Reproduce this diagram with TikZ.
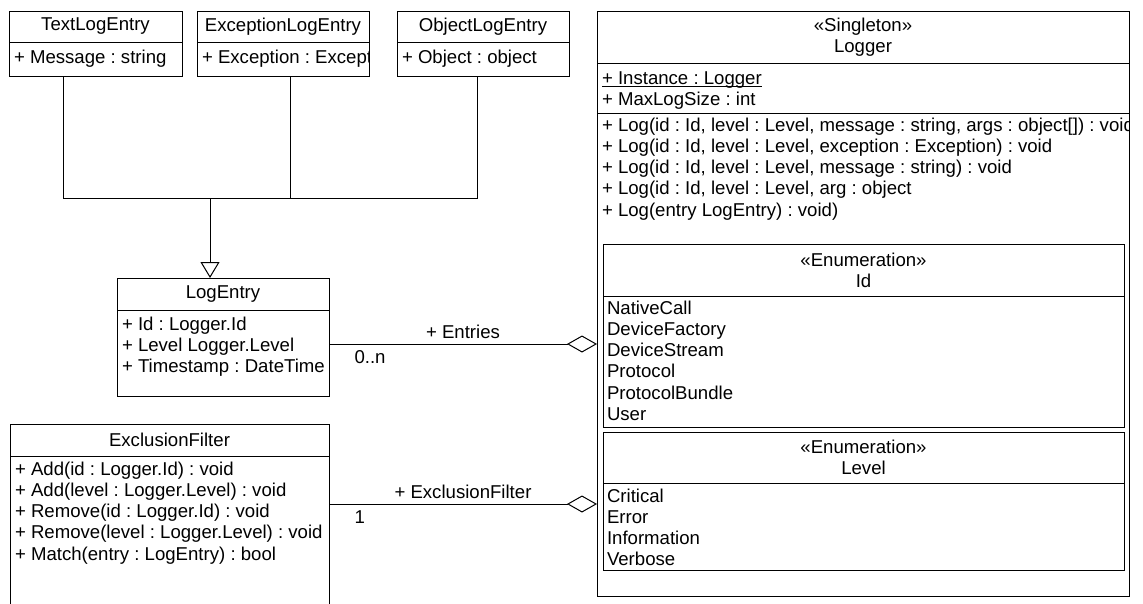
\documentclass[tikz,border=0pt]{standalone}
\usepackage{fontspec}
\setmainfont{Liberation Sans}
\usetikzlibrary{positioning,arrows.meta}

\newcommand{\umlfont}{\fontsize{18.6}{21.3}\selectfont}
\frenchspacing

\begin{document}
\begin{tikzpicture}[x=1pt, y=-1pt, line width=1pt, font=\umlfont,
    cls/.style={draw, rectangle, anchor=north west, inner sep=0pt, outer sep=0pt},
    ttl/.style={cls, align=center},
    txt/.style={anchor=base west, inner sep=0pt, outer sep=0pt},
    gen/.style={-{Triangle[open, length=16pt, width=19pt]}},
    agg/.style={-{Diamond[open, length=30pt, width=17pt]}},
    role/.style={midway, above, inner sep=0pt, yshift=5pt},
    mult/.style={at start, anchor=base west, inner sep=0pt, xshift=25pt, yshift=-19pt}]
        \fill[white] (0,0) rectangle (1143,603);
        \useasboundingbox (0,0) rectangle (1143,603);
        \clip (0,0) rectangle (1143,603);

        % Subclasses of LogEntry
        \node[ttl, minimum width=173pt, minimum height=31pt] (tle) at (9,11) {TextLogEntry};
        \node[cls, minimum width=173pt, minimum height=34pt] (tleb) at (tle.south west) {};
        \node[txt] (tlem) at (14,63) {+ Message : string};

        \node[ttl, minimum width=172pt, minimum height=31pt] (ele) at (197,11) {ExceptionLogEntry};
        \node[cls, minimum width=172pt, minimum height=34pt] (eleb) at (ele.south west) {};
        \begin{scope}
            \clip (eleb.north west) rectangle (eleb.south east);
            \node[txt] (elem) at (202,63) {+ Exception : Exception};
        \end{scope}

        \node[ttl, minimum width=172pt, minimum height=31pt] (ole) at (397,11) {ObjectLogEntry};
        \node[cls, minimum width=172pt, minimum height=34pt] (oleb) at (ole.south west) {};
        \node[txt] (olem) at (402,63) {+ Object : object};

        % LogEntry
        \node[ttl, minimum width=212pt, minimum height=32pt] (le) at (117,278) {LogEntry};
        \node[cls, minimum width=212pt, minimum height=86pt] (leb) at (le.south west) {};
        \foreach \t [count=\i from 0] in {{+ Id : Logger.Id}, {+ Level Logger.Level}, {+ Timestamp : DateTime}} {
            \node[txt] (lea\i) at (122,330+21.3*\i) {\t};
        }

        % ExclusionFilter
        \node[ttl, minimum width=319pt, minimum height=32pt] (ef) at (10,424) {ExclusionFilter};
        \node[cls, minimum width=319pt, minimum height=184pt] (efb) at (ef.south west) {};
        \foreach \t [count=\i from 0] in {{+ Add(id : Logger.Id) : void}, {+ Add(level : Logger.Level) : void},
            {+ Remove(id : Logger.Id) : void}, {+ Remove(level : Logger.Level) : void}, {+ Match(entry : LogEntry) : bool}} {
            \node[txt] (efm\i) at (15,475+21.3*\i) {\t};
        }

        % Logger
        \node[ttl, minimum width=532pt, minimum height=52pt] (lg) at (597,11) {«Singleton»\\Logger};
        \node[cls, minimum width=532pt, minimum height=50pt] (lga) at (lg.south west) {};
        \node[cls, minimum width=532pt, minimum height=483pt] (lgm) at (lga.south west) {};
        \node[txt] (inst) at (602,84) {+ Instance : Logger};
        \draw[line width=0.8pt] ([yshift=-2pt]inst.base west) -- ([yshift=-2pt]inst.base east);
        \node[txt] (maxs) at (602,105.3) {+ MaxLogSize : int};
        \begin{scope}
            \clip (lgm.north west) rectangle (lgm.south east);
            \foreach \t [count=\i from 0] in {{+ Log(id : Id, level : Level, message : string, args : object[]) : void},
                {+ Log(id : Id, level : Level, exception : Exception) : void},
                {+ Log(id : Id, level : Level, message : string) : void},
                {+ Log(id : Id, level : Level, arg : object}, {+ Log(entry LogEntry) : void)}} {
                \node[txt] (lgo\i) at (602,131+21.3*\i) {\t};
            }
        \end{scope}

        % Nested enumerations
        \node[ttl, minimum width=521pt, minimum height=52pt] (idh) at (603,244) {«Enumeration»\\Id};
        \node[cls, minimum width=521pt, minimum height=131pt] (idb) at (idh.south west) {};
        \foreach \t [count=\i from 0] in {NativeCall, DeviceFactory, DeviceStream, Protocol, ProtocolBundle, User} {
            \node[txt] (idv\i) at (607,314+21.25*\i) {\t};
        }
        \node[ttl, minimum width=521pt, minimum height=51pt] (lvh) at (603,432) {«Enumeration»\\Level};
        \node[cls, minimum width=521pt, minimum height=87pt] (lvb) at (lvh.south west) {};
        \foreach \t [count=\i from 0] in {Critical, Error, Information, Verbose} {
            \node[txt] (lvv\i) at (607,502+21.3*\i) {\t};
        }

        % Generalization
        \coordinate (tport) at ([xshift=54pt]tleb.south west);
        \coordinate (eport) at ([xshift=93pt]eleb.south west);
        \coordinate (oport) at ([xshift=80pt]oleb.south west);
        \coordinate (hub) at (210,198);
        \draw (tport) |- (oport |- hub) -- (oport);
        \draw (eport) -- (eport |- hub);
        \draw[gen] (hub) -- (hub |- le.north);

        % Aggregations
        \coordinate (entY) at (0,344);
        \coordinate (excY) at (0,504);
        \draw[agg] (leb.east |- entY) -- node[role] (entl) {+ Entries} node[mult] (entm) {0..n} (lgm.west |- entY);
        \draw[agg] (efb.east |- excY) -- node[role] (excl) {+ ExclusionFilter} node[mult] (excm) {1} (lgm.west |- excY);
    \end{tikzpicture}
\end{document}
